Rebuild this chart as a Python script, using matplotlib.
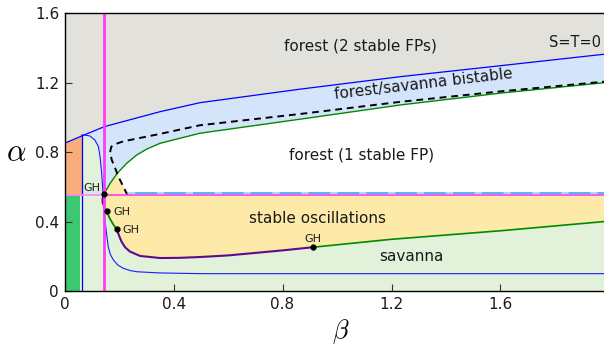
import matplotlib
matplotlib.use("Agg")
import matplotlib.pyplot as plt
import matplotlib.transforms as mtransforms
import numpy as np

# axis ticks
xticks = [0, 0.4, 0.8, 1.2, 1.6]
xtick_labels = ["0", "0.4", "0.8", "1.2", "1.6"]
yticks = [0, 0.4, 0.8, 1.2, 1.6]
ytick_labels = ["0", "0.4", "0.8", "1.2", "1.6"]

# boundaries (beta, alpha)
beta_hopf = 0.1445        # vertical magenta line
alpha_hopf = 0.552        # horizontal pink/magenta line
beta_left = 0.0625        # vertical blue line
beta_green_box = 0.057

upper_beta = [0.0, 0.0625, 0.146, 0.35, 0.497, 0.865, 1.233, 1.6, 1.98]
upper_alpha = [0.851, 0.893, 0.947, 1.033, 1.085, 1.163, 1.235, 1.298, 1.364]

dash_beta = [0.231, 0.197, 0.185, 0.173, 0.167, 0.171, 0.18, 0.215, 0.277,
             0.35, 0.497, 0.865, 1.233, 1.6, 1.98]
dash_alpha = [0.552, 0.66, 0.71, 0.755, 0.80, 0.83, 0.843, 0.862, 0.882,
              0.905, 0.955, 1.02, 1.09, 1.15, 1.206]

green_beta = [0.146, 0.167, 0.193, 0.228, 0.265, 0.301, 0.35, 0.497, 0.865,
              1.233, 1.6, 1.98]
green_alpha = [0.563, 0.62, 0.678, 0.736, 0.784, 0.817, 0.851, 0.909, 0.99,
               1.072, 1.14, 1.20]

thin_beta = [0.0625, 0.08, 0.093, 0.111, 0.124, 0.13, 0.136, 0.14, 0.143,
             0.148, 0.154, 0.16, 0.168, 0.179, 0.195, 0.215, 0.24, 0.265,
             0.35, 0.5, 1.98]
thin_alpha = [0.899, 0.897, 0.893, 0.87, 0.832, 0.774, 0.678, 0.582, 0.50,
              0.41, 0.33, 0.255, 0.21, 0.179, 0.15, 0.131, 0.118, 0.111,
              0.104, 0.10, 0.10]

# lower limit-cycle boundary, in pieces
bulge_beta = [0.146, 0.139, 0.139, 0.147, 0.154]
bulge_alpha = [0.559, 0.535, 0.51, 0.48, 0.461]
low1_beta = [0.154, 0.165, 0.178, 0.191]
low1_alpha = [0.461, 0.42, 0.385, 0.356]
purple_beta = [0.191, 0.2, 0.209, 0.222, 0.24, 0.277, 0.35, 0.42, 0.5, 0.6,
               0.8, 0.91]
purple_alpha = [0.356, 0.318, 0.284, 0.252, 0.227, 0.202, 0.19, 0.191,
                0.196, 0.205, 0.234, 0.252]
low2_beta = [0.91, 1.2, 1.6, 1.98]
low2_alpha = [0.252, 0.298, 0.347, 0.40]

gh_beta = [0.146, 0.154, 0.191, 0.91]
gh_alpha = [0.559, 0.461, 0.356, 0.252]

c_gray = "#e2e1db"
c_lblue = "#d4e4fb"
c_lgreen = "#e2f1d9"
c_yellow = "#fde9a8"
c_orange = "#f9ad7b"
c_green = "#3cc870"
c_purple = "#5c0a8e"
c_dgreen = "#008a00"
c_magenta = "#ff3cf5"

fig = plt.figure(figsize=(6.04, 3.45), dpi=100)
ax = fig.add_axes([0.107, 0.1565, 0.893, 0.805])
ax.set_facecolor(c_lgreen)
xmax = upper_beta[-1]

# regions
ax.fill_between(upper_beta, upper_alpha, 1.6, color=c_gray, lw=0)
ub = np.array(upper_beta)
ua = np.array(upper_alpha)
m = ub >= beta_left
ax.fill_between(ub[m], alpha_hopf, ua[m], color=c_lblue, lw=0)
ax.fill_betweenx(thin_alpha[:8], beta_left, thin_beta[:8], color=c_lgreen, lw=0)
# forest (1 stable FP): under green, right of dashed
wb = [dash_beta[0], dash_beta[1]] + green_beta[2:] + [xmax]
wa = [dash_alpha[0], dash_alpha[1]] + green_alpha[2:] + [alpha_hopf]
ax.fill(wb, wa, color="white", lw=0)
# small oscillation triangle
tb = green_beta[:3] + [dash_beta[1], dash_beta[0]]
ta = [alpha_hopf] + green_alpha[1:3] + [dash_alpha[1], alpha_hopf]
ax.fill(tb, ta, color=c_yellow, lw=0)
# stable oscillations
lb = bulge_beta + low1_beta[1:] + purple_beta[1:] + low2_beta[1:] + [xmax, beta_hopf]
la = bulge_alpha + low1_alpha[1:] + purple_alpha[1:] + low2_alpha[1:] + [alpha_hopf, alpha_hopf]
ax.fill(lb, la, color=c_yellow, lw=0)
ax.fill_between(upper_beta[:2], alpha_hopf, upper_alpha[:2], color=c_orange, lw=0)
ax.fill_between([0, beta_green_box], 0, alpha_hopf, color=c_green, lw=0)

# lines
ax.plot(upper_beta, upper_alpha, color="#0000ff", lw=0.9)
ax.plot(thin_beta, thin_alpha, color="#1a1aff", lw=0.8)
ax.plot([beta_left, beta_left], [0, thin_alpha[0]], color="#0000ff", lw=0.9)
ax.plot(green_beta, green_alpha, color=c_dgreen, lw=1.0)
ax.plot(dash_beta, dash_alpha, color="black", lw=1.4, dashes=(3.5, 2.5))
ax.plot([0, beta_hopf], [alpha_hopf, alpha_hopf], color="#ff88ee", lw=1.2)
ax.plot([beta_hopf, xmax], [alpha_hopf, alpha_hopf], color=c_magenta, lw=1.2)
above = mtransforms.offset_copy(ax.transData, fig=fig, x=0, y=2.3, units="dots")
ax.plot([dash_beta[0], xmax], [alpha_hopf, alpha_hopf], color="#3eb2f2", lw=1.3,
        transform=above)
ax.plot([dash_beta[0], xmax], [alpha_hopf, alpha_hopf], color="#b8def4", lw=1.3,
        dashes=(4, 12), transform=above)
ax.plot(bulge_beta, bulge_alpha, color=c_purple, lw=1.3)
ax.plot(low1_beta, low1_alpha, color=c_dgreen, lw=1.3)
ax.plot(purple_beta, purple_alpha, color=c_purple, lw=1.5)
ax.plot(low2_beta, low2_alpha, color=c_dgreen, lw=1.2)
ax.axvline(beta_hopf, color=c_magenta, lw=2.0)
ax.plot(gh_beta, gh_alpha, "o", color="black", ms=3.5)

# labels
tc = "#1a1a1a"
ax.text(1.086, 1.412, "forest (2 stable FPs)", fontsize=11, ha="center", va="center", color=tc)
ax.text(1.873, 1.43, "S=T=0", fontsize=10.5, ha="center", va="center", color=tc)
ax.text(1.317, 1.193, "forest/savanna bistable", fontsize=11, ha="center", va="center",
        rotation=6.7, rotation_mode="anchor", color=tc)
ax.text(1.09, 0.784, "forest (1 stable FP)", fontsize=11, ha="center", va="center", color=tc)
ax.text(0.928, 0.418, "stable oscillations", fontsize=11, ha="center", va="center", color=tc)
ax.text(1.273, 0.199, "savanna", fontsize=11, ha="center", va="center", color=tc)
gh_text_beta = [0.099, 0.209, 0.245, 0.911]
gh_text_alpha = [0.594, 0.455, 0.351, 0.30]
for b, a in zip(gh_text_beta, gh_text_alpha):
    ax.text(b, a, "GH", fontsize=8, ha="center", va="center", color=tc)

plt.rcParams["mathtext.fontset"] = "cm"
ax.text(-0.09, 0.5, r"$\alpha$", fontsize=22, ha="center", va="center",
        transform=ax.transAxes)
ax.text(0.512, -0.145, r"$\beta$", fontsize=19, ha="center", va="center",
        transform=ax.transAxes)

ax.set_xlim(0, xmax)
ax.set_ylim(0, 1.6)
ax.set_xticks(xticks)
ax.set_xticklabels(xtick_labels)
ax.set_yticks(yticks)
ax.set_yticklabels(ytick_labels)
ax.tick_params(direction="in", length=5, width=0.8, labelsize=11, color="#333333",
               labelcolor=tc, pad=4)
ax.spines["right"].set_visible(False)
for s in ["left", "bottom", "top"]:
    ax.spines[s].set_linewidth(1.0)

fig.savefig("out.png", dpi=100)
